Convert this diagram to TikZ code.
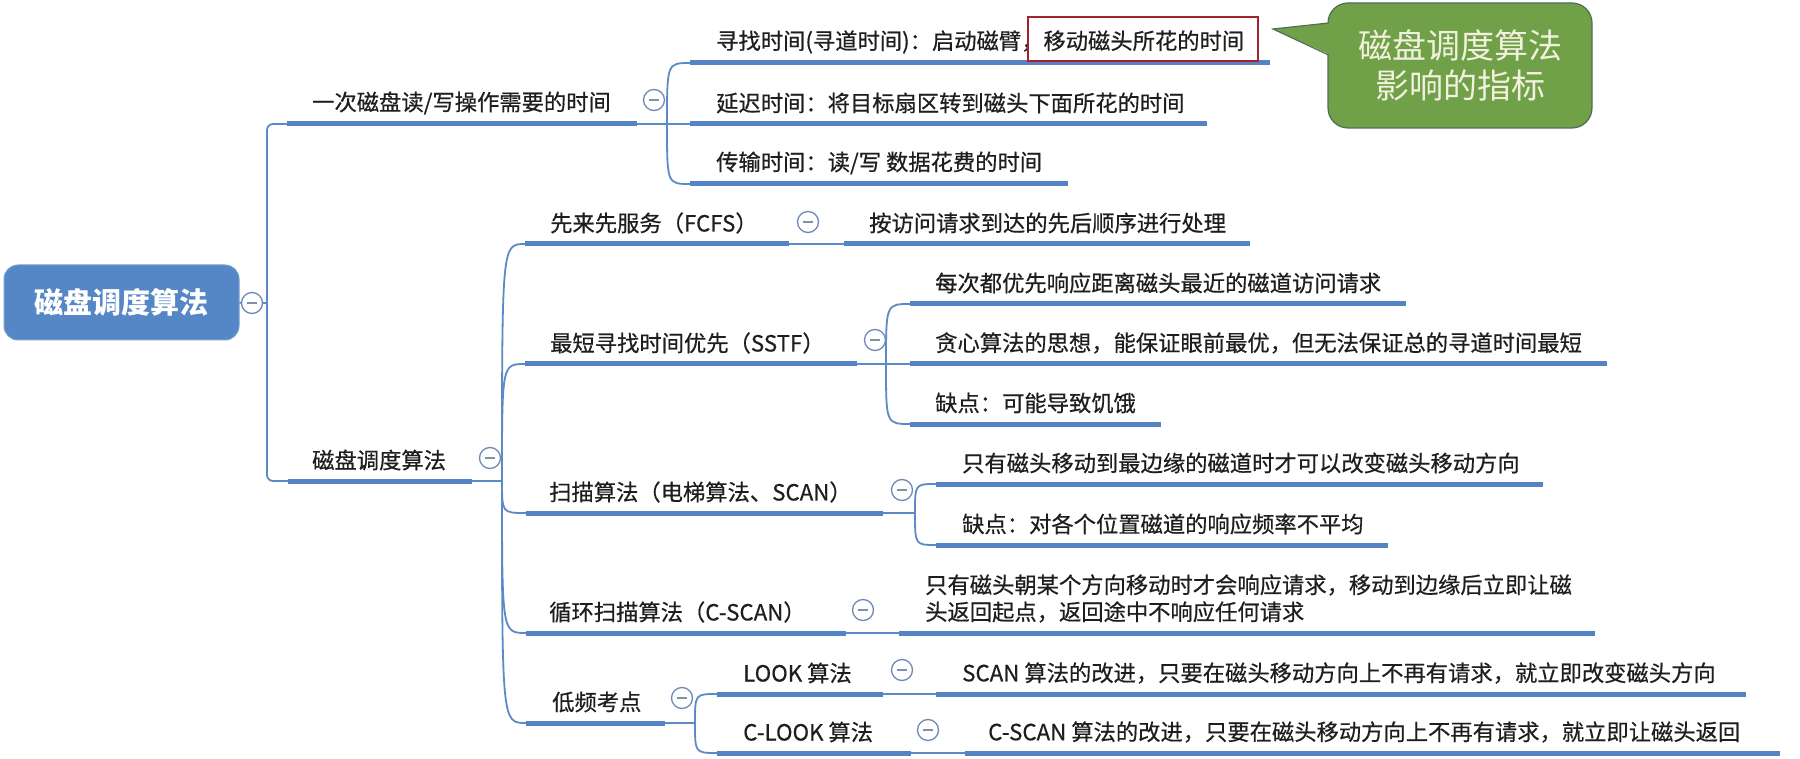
\documentclass[tikz,border=0pt]{standalone}
\usepackage{fontspec}
\newfontfamily\cjk{Noto Sans CJK SC}
\newfontfamily\cjkm[FakeBold=0.5]{Noto Sans CJK SC}
\definecolor{lineblue}{HTML}{5D8AC6}
\definecolor{ulblue}{HTML}{5484C3}
\definecolor{rootfill}{HTML}{5587C7}
\definecolor{rootdraw}{HTML}{7AA0D2}
\definecolor{btnc}{HTML}{6D8AB6}
\definecolor{btnm}{HTML}{8090AA}
\definecolor{txt}{HTML}{1E1E1E}
\definecolor{cofill}{HTML}{70A047}
\definecolor{codraw}{HTML}{4F6F55}
\definecolor{cotext}{HTML}{F2F0DE}
\definecolor{hlred}{HTML}{A3222B}
\newcommand\topic[6]{%
  \coordinate (#1-l) at (#2,#4);
  \coordinate (#1-r) at (#3,#4);
  \node[topic] (#1) at (#5,#4-21) {#6};
  \draw[uline] (#1-l) -- (#1-r);
}
\newcommand\brc[2]{\draw[conn] (#1) .. controls (#1 |- #2) .. (#2);}
\begin{document}
\begin{tikzpicture}[x=1pt,y=-1pt,
  conn/.style={draw=lineblue, line width=1.8pt},
  uline/.style={draw=ulblue, line width=5pt},
  topic/.style={anchor=west, inner sep=0pt, font=\cjkm\fontsize{22.3}{27}\selectfont, text=txt},
  btn/.style={circle, draw=btnc, line width=1.3pt, fill=white, minimum size=21pt, inner sep=0pt,
    path picture={\draw[draw=btnm, line width=1.6pt] ([xshift=-5pt]path picture bounding box.center) -- ([xshift=5pt]path picture bounding box.center);}},
  rootbox/.style={rectangle, rounded corners=14pt, fill=rootfill, draw=rootdraw, line width=1pt,
    minimum width=235pt, minimum height=75pt, text=white, font=\cjk\bfseries\fontsize{29}{34}\selectfont},
  callout/.style={rectangle, rounded corners=20pt, fill=cofill, draw=codraw, line width=1.2pt,
    minimum width=264pt, minimum height=125pt, align=center, text=cotext, font=\cjk\fontsize{34}{40}\selectfont},
  hlbox/.style={rectangle, draw=hlred, line width=1.6pt, minimum width=230pt, minimum height=44pt, inner sep=0pt}
]
\useasboundingbox (0,0) rectangle (1800,759);
\fill[white] (0,0) rectangle (1800,759);

% root
\node[rootbox] (root) at (121.5,302.5) {磁盘调度算法};
\node[btn] (c0) at (252,303) {};
\coordinate (tj) at (267,303);
\draw[conn] (root.east) -- (c0.west);
\draw[conn] (c0.east) -- (tj);

% level 1
\topic{b1}{287}{637}{124}{312}{一次磁盘读/写操作需要的时间}
\topic{b2}{288}{472}{481}{312}{磁盘调度算法}
\draw[conn, rounded corners=6pt] (tj) |- (b1-l);
\draw[conn, rounded corners=6pt] (tj) |- (b2-l);
\node[btn] (cb1) at (654,100) {};
\node[btn] (cb2) at (490,458) {};

% children of b1
\topic{c11}{690}{1270}{63}{716}{寻找时间(寻道时间)：启动磁臂，移动磁头所花的时间}
\topic{c12}{690}{1207}{124}{716}{延迟时间：将目标扇区转到磁头下面所花的时间}
\topic{c13}{690}{1068}{184}{716}{传输时间：读/写 数据花费的时间}
\coordinate (j1) at (667,124);
\draw[conn] (b1-r) -- (j1);
\brc{j1}{c11-l}
\brc{j1}{c12-l}
\brc{j1}{c13-l}
\node[hlbox] (hl) at (1143,39) {};

% callout
\node[callout] (co) at (1460,65.5) {磁盘调度算法\\影响的指标};
\fill[cofill] (1331,23) -- (1273,29) -- (1331,55) -- cycle;
\draw[codraw, line width=1.2pt, line join=miter] (1328.6,23) -- (1273,29) -- (1328.6,55);

% children of b2
\topic{fc}{525}{789}{244}{550}{先来先服务（FCFS）}
\topic{ss}{525}{857}{364}{550}{最短寻找时间优先（SSTF）}
\topic{sc}{526}{883}{513}{549}{扫描算法（电梯算法、SCAN）}
\topic{cs}{526}{846}{633}{549}{循环扫描算法（C-SCAN）}
\topic{lo}{526}{665}{723}{552}{低频考点}
\coordinate (j2) at (502,481);
\draw[conn] (b2-r) -- (j2);
\brc{j2}{fc-l}
\brc{j2}{ss-l}
\brc{j2}{sc-l}
\brc{j2}{cs-l}
\brc{j2}{lo-l}

% FCFS
\node[btn] (cfc) at (808,222) {};
\topic{f1}{844}{1250}{244}{869}{按访问请求到达的先后顺序进行处理}
\draw[conn] (fc-r) -- (f1-l);

% SSTF
\node[btn] (css) at (875,340) {};
\topic{s1}{910}{1406}{304}{935}{每次都优先响应距离磁头最近的磁道访问请求}
\topic{s2}{910}{1607}{364}{935}{贪心算法的思想，能保证眼前最优，但无法保证总的寻道时间最短}
\topic{s3}{910}{1161}{424}{935}{缺点：可能导致饥饿}
\coordinate (j3) at (886,364);
\draw[conn] (ss-r) -- (j3);
\brc{j3}{s1-l}
\brc{j3}{s2-l}
\brc{j3}{s3-l}

% SCAN
\node[btn] (csc) at (902,490) {};
\topic{sc1}{936}{1543}{484}{962}{只有磁头移动到最边缘的磁道时才可以改变磁头移动方向}
\topic{sc2}{936}{1388}{545}{962}{缺点：对各个位置磁道的响应频率不平均}
\coordinate (j4) at (915,513);
\draw[conn] (sc-r) -- (j4);
\brc{j4}{sc1-l}
\brc{j4}{sc2-l}

% C-SCAN
\node[btn] (ccs) at (863,610) {};
\coordinate (cs1-l) at (899,633);
\coordinate (cs1-r) at (1595,633);
\node[topic, align=left] (cs1) at (925,598.5) {只有磁头朝某个方向移动时才会响应请求，移动到边缘后立即让磁\\头返回起点，返回途中不响应任何请求};
\draw[uline] (cs1-l) -- (cs1-r);
\draw[conn] (cs-r) -- (cs1-l);

% low frequency
\node[btn] (clo) at (682,698) {};
\topic{lk}{717}{883}{694}{743}{LOOK 算法}
\topic{cl}{717}{911}{753}{743}{C-LOOK 算法}
\coordinate (j5) at (695,723);
\draw[conn] (lo-r) -- (j5);
\brc{j5}{lk-l}
\brc{j5}{cl-l}
\node[btn] (clk) at (902,670) {};
\node[btn] (ccl) at (928,730) {};
\topic{l1}{936}{1746}{694}{962}{SCAN 算法的改进，只要在磁头移动方向上不再有请求，就立即改变磁头方向}
\topic{cl1}{965}{1780}{753}{988}{C-SCAN 算法的改进，只要在磁头移动方向上不再有请求，就立即让磁头返回}
\draw[conn] (lk-r) -- (l1-l);
\draw[conn] (cl-r) -- (cl1-l);
\end{tikzpicture}
\end{document}
